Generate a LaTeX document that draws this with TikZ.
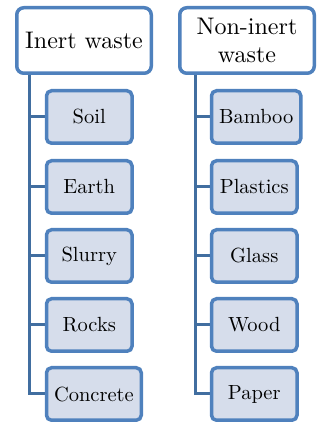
\documentclass[tikz,border=0pt]{standalone}
\usepackage{fontspec}
\setmainfont{lmroman10-regular.otf}
\usetikzlibrary{backgrounds}
\definecolor{boxblue}{RGB}{79,129,189}
\definecolor{linkblue}{RGB}{65,110,160}
\definecolor{itemfill}{RGB}{214,221,235}

\begin{document}
\begin{tikzpicture}[x=1pt,y=1pt,
	head/.style={draw=boxblue, line width=3.5pt, fill=white, rounded corners=7pt, minimum width=134.5pt, minimum height=65.5pt, inner sep=0pt, align=center, font=\fontsize{24}{28}\selectfont},
	item/.style={draw=boxblue, line width=3.5pt, fill=itemfill, rounded corners=5pt, minimum width=85.5pt, minimum height=52.5pt, inner xsep=7.5pt, anchor=west, font=\fontsize{20.5}{24}\selectfont},
	branch/.style={draw=linkblue, line width=3pt}]
		\useasboundingbox (0,0) rectangle (320,423);

		\draw (84,382.5) node[head] (inert) {Inert waste};
		\draw (247,382.5) node[head] (noninert) {Non-inert\\waste};

		\draw (44.75,306) node[item] (soil) {Soil};
		\draw (44.75,236) node[item] (earth) {Earth};
		\draw (44.75,167) node[item] (slurry) {Slurry};
		\draw (44.75,98) node[item] (rocks) {Rocks};
		\draw (44.75,29) node[item] (concrete) {Concrete};

		\draw (209.75,306) node[item] (bamboo) {Bamboo};
		\draw (209.75,236) node[item] (plastics) {Plastics};
		\draw (209.75,167) node[item] (glass) {Glass};
		\draw (209.75,98) node[item] (wood) {Wood};
		\draw (209.75,29) node[item] (paper) {Paper};

		\coordinate (trunkL) at ([xshift=-54.5pt]inert.south);
		\coordinate (trunkR) at ([xshift=-51.5pt]noninert.south);

		\begin{scope}[on background layer]
		\foreach \kid in {soil,earth,slurry,rocks,concrete}
			\draw [branch] (trunkL) |- (\kid.west);
		\foreach \kid in {bamboo,plastics,glass,wood,paper}
			\draw [branch] (trunkR) |- (\kid.west);
		\end{scope}
	\end{tikzpicture}
\end{document}
